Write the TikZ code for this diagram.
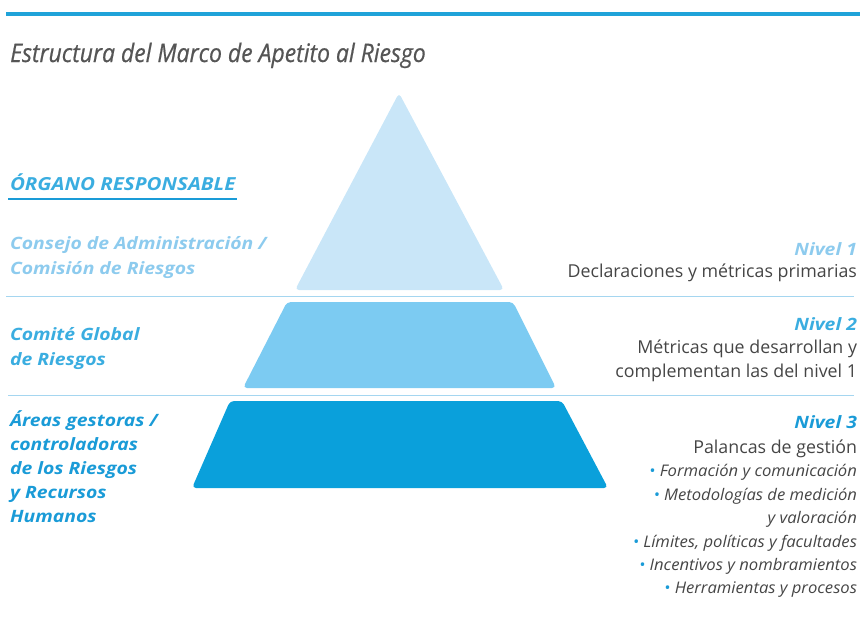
\documentclass[tikz,border=0pt]{standalone}
\usepackage{fontspec}
\setmainfont{Open Sans}
\newfontfamily\labelfont[FakeStretch=1.14]{Open Sans}
\newfontfamily\itemfont[FakeStretch=1.04]{Open Sans}
\newfontfamily\titlefont[FakeStretch=0.9,FakeBold=0.6]{Open Sans}
\definecolor{topblue}{HTML}{1FA3D9}
\definecolor{titlegray}{HTML}{555555}
\definecolor{bodygray}{HTML}{454545}
\definecolor{lvone}{HTML}{8DCBEE}
\definecolor{lvonefill}{HTML}{C9E6F8}
\definecolor{lvtwo}{HTML}{3AADE0}
\definecolor{lvtwofill}{HTML}{7CCBF2}
\definecolor{lvthree}{HTML}{1A9BD7}
\definecolor{lvthreefill}{HTML}{0AA0DB}
\definecolor{sepline}{HTML}{A5D6F0}
\begin{document}
\begin{tikzpicture}[x=1pt,y=-1pt,
  lbl/.style={inner sep=0pt,outer sep=0pt,font=\labelfont\fontsize{17}{20}\selectfont\bfseries\itshape,anchor=base west},
  rlbl/.style={inner sep=0pt,outer sep=0pt,font=\fontsize{17.8}{20}\selectfont,anchor=base east,text=bodygray},
  nivel/.style={inner sep=0pt,outer sep=0pt,font=\labelfont\fontsize{17}{20}\selectfont\bfseries\itshape,anchor=base east},
  item/.style={inner sep=0pt,outer sep=0pt,font=\itemfont\fontsize{16}{20}\selectfont\itshape,anchor=base east,text=bodygray},
  sep/.style={draw=sepline,line width=1pt},
  tier/.style={rounded corners=4pt}]
\useasboundingbox (0,0) rectangle (860,625);
% top rule
\coordinate (tl) at (6,14); \coordinate (tr) at (860,14);
\draw[topblue,line width=3.2pt] (tl) -- (tr);
% title
\node[inner sep=0pt,anchor=base west,text=titlegray,font=\titlefont\fontsize{25.5}{28}\selectfont\itshape] (title) at (10,62) {Estructura del Marco de Apetito al Riesgo};
% pyramid
\fill[lvonefill,tier] (399,93) -- (504,290) -- (295,290) -- cycle;
\fill[lvtwofill,tier] (287,302) -- (513,302) -- (556,388) -- (243,388) -- cycle;
\fill[lvthreefill,tier] (230,401) -- (562,401) -- (608,488) -- (192,488) -- cycle;
% separators
\coordinate (s1a) at (6,296); \coordinate (s1b) at (854,296);
\coordinate (s2a) at (8,395); \coordinate (s2b) at (854,395);
\draw[sep] (s1a) -- (s1b);
\draw[sep] (s2a) -- (s2b);
% left header
\node[lbl,text=lvtwo,font=\labelfont\fontsize{18}{20}\selectfont\bfseries\itshape] (org) at (10,190) {ÓRGANO RESPONSABLE};
\coordinate (u1) at (8,199); \coordinate (u2) at (237,199);
\draw[lvthree,line width=1.2pt] (u1) -- (u2);
% left labels
\node[lbl,text=lvone] (c1a) at (10,249) {Consejo de Administración /};
\node[lbl,text=lvone] (c1b) at (10,274) {Comisión de Riesgos};
\node[lbl,text=lvtwo] (c2a) at (10,340) {Comité Global};
\node[lbl,text=lvtwo] (c2b) at (10,365) {de Riesgos};
\node[lbl,text=lvthree] (c3a) at (10,426) {Áreas gestoras /};
\node[lbl,text=lvthree] (c3b) at (10,450) {controladoras};
\node[lbl,text=lvthree] (c3c) at (10,474) {de los Riesgos};
\node[lbl,text=lvthree] (c3d) at (10,498) {y Recursos};
\node[lbl,text=lvthree] (c3e) at (10,522) {Humanos};
% right labels
\node[nivel,text=lvone] (n1) at (857,255) {Nivel 1};
\node[rlbl] (d1) at (857,277) {Declaraciones y métricas primarias};
\node[nivel,text=lvtwo] (n2) at (857,330) {Nivel 2};
\node[rlbl] (d2a) at (857,353) {Métricas que desarrollan y};
\node[rlbl] (d2b) at (857,377) {complementan las del nivel 1};
\node[nivel,text=lvthree] (n3) at (857,428) {Nivel 3};
\node[rlbl] (d3) at (857,453) {Palancas de gestión};
\node[item] (i1) at (857,476) {\textcolor{lvthree}{\textbullet} Formación y comunicación};
\node[item] (i2) at (857,500) {\textcolor{lvthree}{\textbullet} Metodologías de medición};
\node[item] (i3) at (857,523) {y valoración};
\node[item] (i4) at (857,547) {\textcolor{lvthree}{\textbullet} Límites, políticas y facultades};
\node[item] (i5) at (857,570) {\textcolor{lvthree}{\textbullet} Incentivos y nombramientos};
\node[item] (i6) at (857,593) {\textcolor{lvthree}{\textbullet} Herramientas y procesos};
\end{tikzpicture}
\end{document}
